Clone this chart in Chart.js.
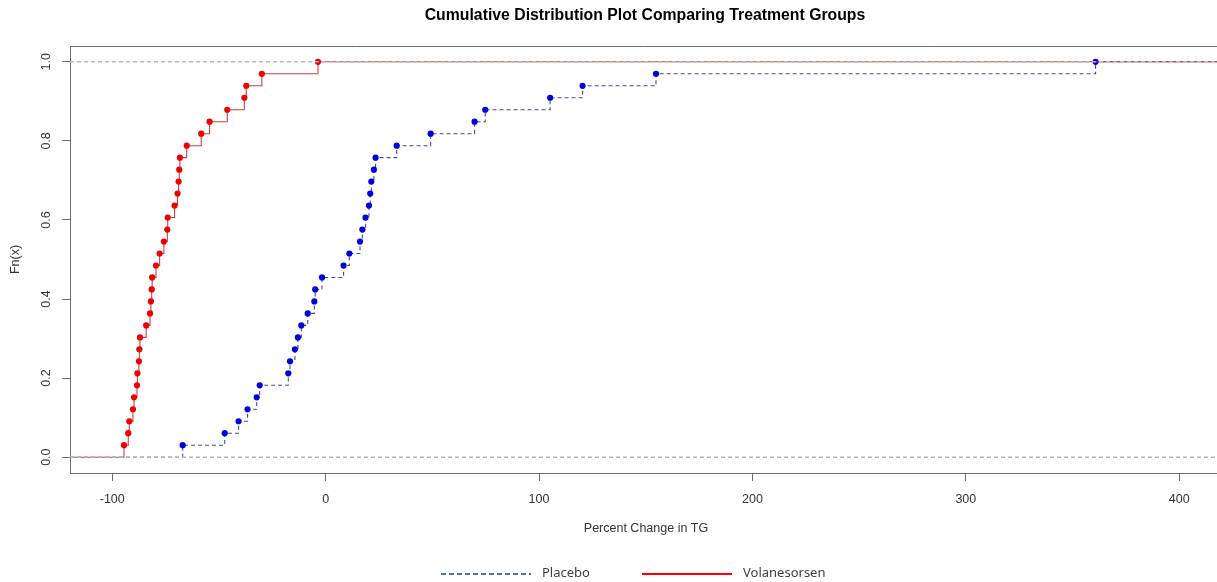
<!DOCTYPE html>
<html>
<head>
<meta charset="utf-8">
<title>Cumulative Distribution Plot</title>
<script src="https://cdn.jsdelivr.net/npm/chart.js@4.4.1/dist/chart.umd.min.js"></script>
<style>
  html, body { margin: 0; padding: 0; background: #fff; }
  #wrap { position: relative; width: 1217px; height: 582px; }
</style>
</head>
<body>
<div id="wrap"><canvas id="cdf"></canvas></div>
<script>
// percent change in TG, one value per patient, sorted
const placebo = [-67.0, -47.3, -40.8, -36.6, -32.3, -30.9, -17.5, -16.7, -14.4, -13.0, -11.4,
  -8.4, -5.3, -4.9, -1.7, 8.4, 11.1, 16.1, 17.2, 18.7, 20.3, 20.9, 21.4, 22.6, 23.4,
  33.3, 49.2, 69.8, 74.8, 105.2, 120.4, 154.8, 360.8];
const volanesorsen = [-94.5, -92.5, -92.0, -90.3, -89.8, -88.4, -88.2, -87.5, -87.3, -87.0, -84.1,
  -82.3, -81.9, -81.5, -81.3, -79.5, -77.8, -75.8, -74.2, -74.0, -70.8, -69.4, -68.9, -68.6,
  -68.3, -65.1, -58.3, -54.4, -46.1, -38.1, -37.2, -29.9, -3.6];

const xTicks = [-100, 0, 100, 200, 300, 400];
const yTicks = [0, 0.2, 0.4, 0.6, 0.8, 1.0];
const xRange = [-119.8, 417.7];
const yRange = [-0.04, 1.04];

const TITLE = 'Cumulative Distribution Plot Comparing Treatment Groups';
const X_TITLE = 'Percent Change in TG';
const Y_TITLE = 'Fn(x)';

const AXIS = '#6e6e6e';
const TEXT = '#333';
const AXIS_FONT = '12.5px "Liberation Sans", Arial, sans-serif';

// empirical cdf as step points, padded with flat ends out to the plot edges
function ecdf(vals) {
  const n = vals.length;
  const pts = vals.map((v, i) => ({ x: v, y: (i + 1) / n }));
  return [{ x: xRange[0], y: 0 }, ...pts, { x: xRange[1], y: 1 }];
}

// gray reference line at 0 and 1, drawn over the step lines
function hline(y) {
  return {
    label: '', data: [{ x: xRange[0], y }, { x: xRange[1], y }],
    borderColor: '#b4b4b4', borderWidth: 1.6, borderDash: [4, 3],
    pointRadius: 0, order: 0,
  };
}

// ends of the step line are only padding, no marker there
const innerRadius = r => ctx => (ctx.dataIndex === 0 || ctx.dataIndex === ctx.dataset.data.length - 1) ? 0 : r;

const legendItems = [
  { text: 'Placebo', color: '#4472c4', dash: [5, 3], x: 441 },
  { text: 'Volanesorsen', color: '#ff0000', dash: [], x: 642 },
];

const decor = {
  id: 'decor',
  afterDraw(chart) {
    const { ctx, chartArea: a, scales } = chart;
    ctx.save();

    // top side of the box
    ctx.strokeStyle = AXIS;
    ctx.lineWidth = 1;
    ctx.beginPath();
    ctx.moveTo(a.left, Math.round(a.top) + 0.5);
    ctx.lineTo(a.right, Math.round(a.top) + 0.5);
    ctx.stroke();

    // y tick labels, turned like the axis title
    ctx.fillStyle = TEXT;
    ctx.font = AXIS_FONT;
    ctx.textAlign = 'center';
    ctx.textBaseline = 'middle';
    yTicks.forEach(v => {
      const py = scales.y.getPixelForValue(v);
      ctx.save();
      ctx.translate(47, py);
      ctx.rotate(-Math.PI / 2);
      ctx.fillText(v.toFixed(1), 0, 0);
      ctx.restore();
    });

    ctx.save();
    ctx.translate(16, (a.top + a.bottom) / 2);
    ctx.rotate(-Math.PI / 2);
    ctx.fillText(Y_TITLE, 0, 0);
    ctx.restore();

    ctx.fillText(X_TITLE, 646, 529);

    ctx.fillStyle = '#000';
    ctx.font = 'bold 15.8px "Liberation Sans", Arial, sans-serif';
    ctx.fillText(TITLE, 645, 16);

    // legend under the plot
    ctx.font = '13px "Noto Sans", "Open Sans", sans-serif';
    ctx.textAlign = 'left';
    legendItems.forEach(it => {
      ctx.strokeStyle = it.color;
      ctx.lineWidth = 2;
      ctx.setLineDash(it.dash);
      ctx.beginPath();
      ctx.moveTo(it.x, 574);
      ctx.lineTo(it.x + 90, 574);
      ctx.stroke();
      ctx.setLineDash([]);
      ctx.fillStyle = '#404040';
      ctx.fillText(it.text, it.x + 101, 573);
    });

    ctx.restore();
  },
};

new Chart(document.getElementById('cdf'), {
  type: 'line',
  data: {
    datasets: [
      hline(0),
      hline(1),
      {
        label: 'Volanesorsen', data: ecdf(volanesorsen), stepped: 'before',
        borderColor: '#c84040', borderWidth: 1.1,
        pointRadius: innerRadius(3.1), pointBackgroundColor: '#ee0000', pointBorderWidth: 0,
        order: 1,
      },
      {
        label: 'Placebo', data: ecdf(placebo), stepped: 'before',
        borderColor: '#4646a8', borderWidth: 1.1, borderDash: [4, 3],
        pointRadius: innerRadius(3.1), pointBackgroundColor: '#0000dd', pointBorderWidth: 0,
        order: 2,
      },
    ],
  },
  options: {
    responsive: true,
    maintainAspectRatio: false,
    animation: false,
    layout: { padding: { top: 46, right: 0, bottom: 0, left: 0 } },
    plugins: { legend: { display: false }, tooltip: { enabled: false }, title: { display: false } },
    scales: {
      x: {
        type: 'linear', min: xRange[0], max: xRange[1],
        afterBuildTicks: s => { s.ticks = xTicks.map(value => ({ value })); },
        afterFit: s => { s.height = 109; },
        grid: { drawOnChartArea: false, drawTicks: true, tickLength: 8, tickColor: AXIS },
        border: { display: true, color: AXIS, width: 1 },
        ticks: { color: TEXT, padding: 11, font: { family: '"Liberation Sans", Arial, sans-serif', size: 12.5 } },
      },
      y: {
        type: 'linear', min: yRange[0], max: yRange[1],
        afterBuildTicks: s => { s.ticks = yTicks.map(value => ({ value })); },
        afterFit: s => { s.width = 70; },
        grid: { drawOnChartArea: false, drawTicks: true, tickLength: 8, tickColor: AXIS },
        border: { display: true, color: AXIS, width: 1 },
        ticks: { display: false },
      },
    },
  },
  plugins: [decor],
});
</script>
</body>
</html>
